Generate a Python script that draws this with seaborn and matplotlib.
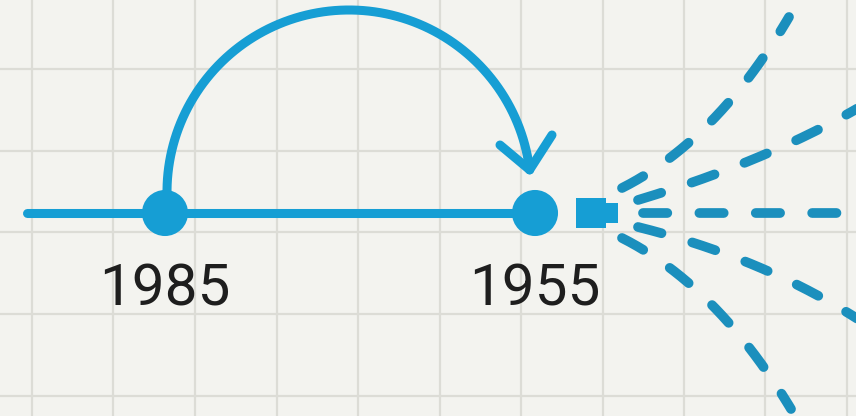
import numpy as np
import seaborn as sns
import matplotlib.pyplot as plt

# Данные схемы (в пикселях холста 856x416)
years = ['1985', '1955']
year_x = [165, 535]
timeline_y = 213
timeline_start = 27

# Дуга "прыжка" во времени
arc_center = (349, 192)
arc_radius = 182
arc_angles = (186.6, 7.0)  # градусы, от левого конца к правому
arrow_arms = [(500, 145), (552, 135)]

# Лучи из точки разрыва: начало, контрольная точка, конец
rays = [
    [(622, 188), (717, 140), (789, 17)],
    [(638, 200), (774, 159), (870, 101)],
    [(643, 213), (750, 213), (870, 213)],
    [(638, 227), (770, 260), (870, 327)],
    [(622, 238), (717, 286), (791, 409)],
]
blob_x = [591, 608]
blob_size = [440, 220]

grid_x = [32, 113, 195, 277, 358, 440, 521, 603, 684, 765, 847]
grid_y = [69, 151, 232, 314, 396]

blue = '#169ed4'
ray_blue = '#1b8fbd'

sns.set_style('white', {'axes.facecolor': '#f3f3ef', 'figure.facecolor': '#f3f3ef'})
plt.rcParams['font.family'] = ['Roboto', 'DejaVu Sans']

fig = plt.figure(figsize=(8.56, 4.16), dpi=100)
ax = fig.add_axes([0, 0, 1, 1])
ax.set_xlim(0, 856)
ax.set_ylim(416, 0)

# Сетка "тетради"
ax.set_xticks(grid_x)
ax.set_yticks(grid_y)
ax.tick_params(length=0, labelbottom=False, labelleft=False)
ax.grid(True, color='#dcdcd6', linewidth=1.6)
for s in ax.spines.values():
    s.set_visible(False)

# Линия времени
sns.lineplot(x=[timeline_start, year_x[1]], y=[timeline_y, timeline_y], ax=ax,
             color=blue, linewidth=6.5, solid_capstyle='round')

# Дуга со стрелкой
t = np.radians(np.linspace(arc_angles[0], arc_angles[1], 200))
ax.plot(arc_center[0] + arc_radius * np.cos(t), arc_center[1] - arc_radius * np.sin(t),
        color=blue, linewidth=6.5, solid_capstyle='round')
tip = (arc_center[0] + arc_radius * np.cos(t[-1]), arc_center[1] - arc_radius * np.sin(t[-1]))
for ax_x, ax_y in arrow_arms:
    ax.plot([ax_x, tip[0]], [ax_y, tip[1]], color=blue, linewidth=6.5,
            solid_capstyle='round')

# Точки годов
sns.scatterplot(x=year_x, y=[timeline_y] * len(year_x), ax=ax, s=1100,
                color=blue, edgecolor='none', zorder=5)

# Разрыв
ax.scatter(blob_x, [timeline_y] * len(blob_x), s=blob_size, marker='s',
           color=blue, edgecolor='none', zorder=5)

# Расходящиеся пунктирные лучи (квадратичные кривые Безье)
u = np.linspace(0, 1, 200)[:, None]
for p0, p1, p2 in rays:
    p0, p1, p2 = np.array(p0), np.array(p1), np.array(p2)
    pts = (1 - u) ** 2 * p0 + 2 * (1 - u) * u * p1 + u ** 2 * p2
    ax.plot(pts[:, 0], pts[:, 1], color=ray_blue, linewidth=7,
            dashes=(2.5, 3.3), dash_capstyle='round')

# Подписи годов
for label, x in zip(years, year_x):
    ax.text(x, 305, label, ha='center', va='baseline', fontsize=42, color='#1e1e1e')

fig.savefig('out.png', dpi=100)
